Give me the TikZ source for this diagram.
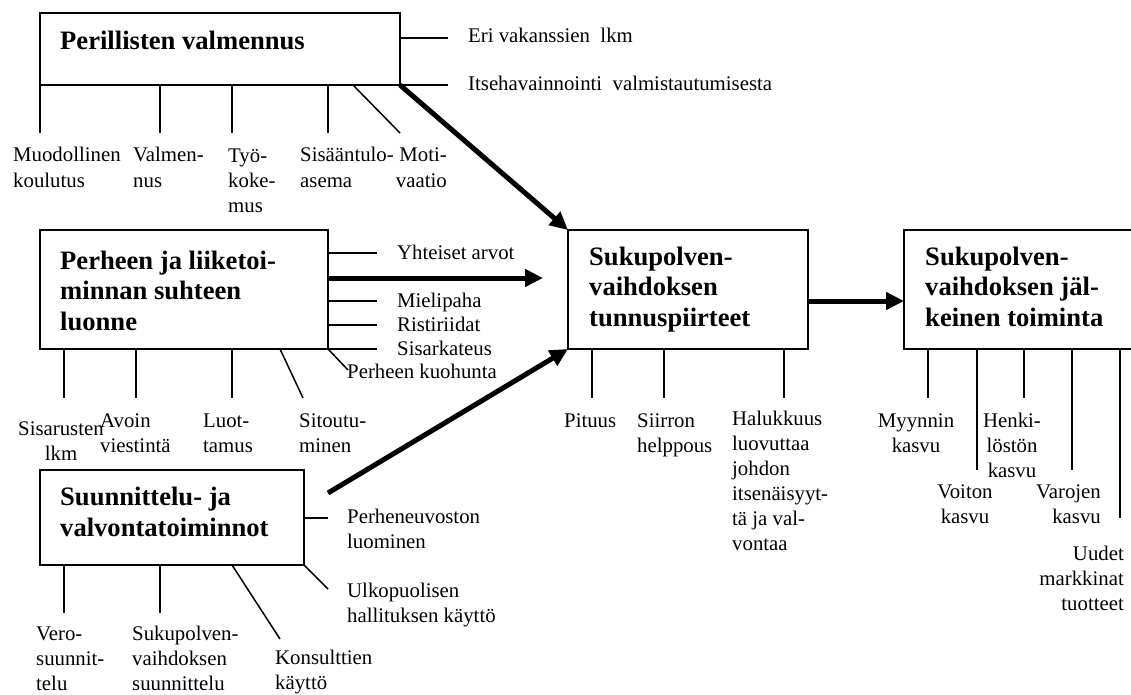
\documentclass[tikz,border=0pt]{standalone}
\usepackage{fontspec}
\setmainfont{Liberation Serif}
\usetikzlibrary{arrows.meta}
\begin{document}
\begin{tikzpicture}[x=1pt,y=-1pt,
  box/.style={draw, line width=2pt, rectangle, inner sep=0pt, outer sep=0pt, anchor=north west},
  conn/.style={line width=1.5pt},
  flow/.style={line width=5pt, -{Triangle[length=18pt,width=17pt]}},
  lbl/.style={inner sep=0pt, font=\fontsize{20.8}{25}\selectfont, align=left},
  ttl/.style={inner sep=0pt, font=\fontsize{26.6}{30.5}\selectfont\bfseries, align=left}]
\useasboundingbox (0,0) rectangle (1131,695);
% Multi-line nodes are placed by the baseline of their last line.

% ---------- boxes ----------
\node[box, minimum width=360pt, minimum height=72pt]  (b1)  at (40,13)  {};
\node[box, minimum width=288pt, minimum height=119pt] (b2)  at (40,230) {};
\node[box, minimum width=264pt, minimum height=95pt]  (b3)  at (40,470) {};
\node[box, minimum width=240pt, minimum height=119pt] (mid) at (568,230) {};
\node[box, minimum width=240pt, minimum height=119pt] (res) at (904,230) {};

% ---------- box titles ----------
\node[ttl, anchor=base west] (t1) at (60,50) {Perillisten valmennus};
\node[ttl, anchor=base west] (t2) at (60,330) {Perheen ja liiketoi-\\minnan suhteen\\luonne};
\node[ttl, anchor=base west] (t3) at (60,536) {Suunnittelu- ja\\valvontatoiminnot};
\node[ttl, anchor=base west] (t4) at (589,326) {Sukupolven-\\vaihdoksen\\tunnuspiirteet};
\node[ttl, anchor=base west] (t5) at (925,326) {Sukupolven-\\vaihdoksen jäl-\\keinen toiminta};

% ---------- main flow arrows ----------
\coordinate (a2) at (543,278);
\coordinate (a3) at (328,493);
\draw[flow] (b1.south east) -- (mid.north west);
\draw[flow] (a2 -| b2.east) -- (a2);
\draw[flow] (a3) -- (mid.south west);
\draw[flow] (mid.east |- 0,301) -- (res.west |- 0,301);

% ---------- box 1: factors ----------
\coordinate (r11) at (448,38);
\coordinate (r12) at (448,85);
\draw[conn] (r11 -| b1.east) -- (r11);
\draw[conn] (b1.south east) -- (r12);
\node[lbl, anchor=base west] (n11) at (468,43) {Eri vakanssien\ \ lkm};
\node[lbl, anchor=base west] (n12) at (468,91) {Itsehavainnointi\ \ valmistautumisesta};

\foreach \x [count=\i] in {40,160,232,328} {
  \coordinate (d1\i) at (\x,133);
  \draw[conn] (d1\i |- b1.south) -- (d1\i);
}
\coordinate (d15) at (400,133);
\draw[conn] (b1.south -| 353,0) -- (d15);
\node[lbl, anchor=base west] (m11) at (13,187)  {Muodollinen\\koulutus};
\node[lbl, anchor=base west] (m12) at (133,187) {Valmen-\\nus};
\node[lbl, anchor=base west] (m13) at (228,212) {Työ-\\koke-\\mus};
\node[lbl, anchor=base west] (m14) at (300,187) {Sisääntulo-\\asema};
\node[lbl, anchor=base east, align=right] (m15) at (447,187) {Moti-\\vaatio};

% ---------- box 2: factors ----------
\foreach \y [count=\i] in {253,301,325} {
  \coordinate (r2\i) at (377,\y);
  \draw[conn] (r2\i -| b2.east) -- (r2\i);
}
\coordinate (r24) at (377,349);
\draw[conn] (b2.south east) -- (r24);
\coordinate (r25) at (348,370);
\draw[conn] (b2.south east) -- (r25);
\node[lbl, anchor=base west] (n21) at (397,259) {Yhteiset arvot};
\node[lbl, anchor=base west] (n22) at (397,307) {Mielipaha};
\node[lbl, anchor=base west] (n23) at (397,331) {Ristiriidat};
\node[lbl, anchor=base west] (n24) at (397,355) {Sisarkateus};
\node[lbl, anchor=base west] (n25) at (347,378) {Perheen kuohunta};

\foreach \x [count=\i] in {64,136,232} {
  \coordinate (d2\i) at (\x,398);
  \draw[conn] (d2\i |- b2.south) -- (d2\i);
}
\coordinate (d24) at (303,398);
\draw[conn] (b2.south -| 280,0) -- (d24);
\node[lbl, anchor=base, align=center] (m21) at (61,460) {Sisarusten\\lkm};
\node[lbl, anchor=base west] (m22) at (100,452) {Avoin\\viestintä};
\node[lbl, anchor=base west] (m23) at (203,452) {Luot-\\tamus};
\node[lbl, anchor=base west] (m24) at (299,452) {Sitoutu-\\minen};

% ---------- box 3: factors ----------
\coordinate (r31) at (328,518);
\draw[conn] (r31 -| b3.east) -- (r31);
\coordinate (r32) at (328,589);
\draw[conn] (b3.south east) -- (r32);
\node[lbl, anchor=base west] (n31) at (347,548) {Perheneuvoston\\luominen};
\node[lbl, anchor=base west] (n32) at (347,622) {Ulkopuolisen\\hallituksen käyttö};

\foreach \x [count=\i] in {64,160} {
  \coordinate (d3\i) at (\x,613);
  \draw[conn] (d3\i |- b3.south) -- (d3\i);
}
\coordinate (d33) at (280,639);
\draw[conn] (b3.south -| 232,0) -- (d33);
\node[lbl, anchor=base west] (m31) at (36,690)  {Vero-\\suunnit-\\telu};
\node[lbl, anchor=base west] (m32) at (132,690) {Sukupolven-\\vaihdoksen\\suunnittelu};
\node[lbl, anchor=base west] (m33) at (275,689) {Konsulttien\\käyttö};

% ---------- characteristics of the succession ----------
\foreach \x [count=\i] in {592,664,784} {
  \coordinate (d4\i) at (\x,398);
  \draw[conn] (d4\i |- mid.south) -- (d4\i);
}
\node[lbl, anchor=base west] (m41) at (564,427) {Pituus};
\node[lbl, anchor=base west] (m42) at (637,452) {Siirron\\helppous};
\node[lbl, anchor=base west] (m43) at (732,550) {Halukkuus\\luovuttaa\\johdon\\itsenäisyyt-\\tä ja val-\\vontaa};

% ---------- performance after the succession ----------
\foreach \x/\e [count=\i] in {928/398,977/470,1024/398,1072/470,1120/518} {
  \coordinate (d5\i) at (\x,\e);
  \draw[conn] (d5\i |- res.south) -- (d5\i);
}
\node[lbl, anchor=base, align=center] (m51) at (916,452)  {Myynnin\\kasvu};
\node[lbl, anchor=base, align=center] (m52) at (965,523)  {Voiton\\kasvu};
\node[lbl, anchor=base, align=center] (m53) at (1012,477) {Henki-\\löstön\\kasvu};
\node[lbl, anchor=base east, align=right] (m54) at (1101,523) {Varojen\\kasvu};
\node[lbl, anchor=base east, align=right] (m55) at (1124,610) {Uudet\\markkinat\\tuotteet};
\end{tikzpicture}
\end{document}
